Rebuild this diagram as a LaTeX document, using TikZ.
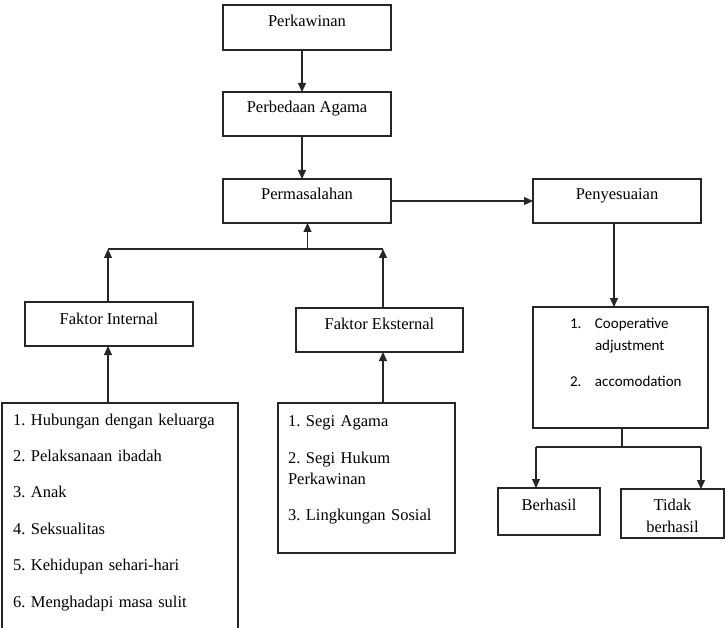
\documentclass[tikz,border=0pt]{standalone}
\usepackage{fontspec}
\setmainfont{Liberation Serif}
\newfontfamily\calib{Carlito}
\usetikzlibrary{arrows.meta}
\frenchspacing
\begin{document}
\begin{tikzpicture}[x=1pt,y=-1pt,
  box/.style={draw=black!85, line width=1.1pt, rectangle, inner sep=0pt, outer sep=0pt, font=\fontsize{16.5}{19}\selectfont},
  topbox/.style={box, minimum width=168pt, text height=21pt, text depth=23pt},
  arr/.style={draw=black!85, line width=1.1pt, -{Triangle[length=9pt,width=8pt]}},
  ln/.style={draw=black!85, line width=1.1pt}]
\useasboundingbox (0,0) rectangle (725,628);
% top column
\node[topbox, anchor=north west, text height=22pt, text depth=23pt] (perk) at (223,5) {Perkawinan};
\node[topbox, anchor=north west] (perb) at (223,92) {Perbedaan Agama};
\node[topbox, anchor=north west] (perm) at (223,179) {Permasalahan};
\node[topbox, anchor=north west] (peny) at (533,179) {Penyesuaian};
% factors
\node[topbox, anchor=north west, text height=22pt, text depth=22pt] (fi) at (25,302) {Faktor Internal};
\node[topbox, anchor=north west, minimum width=167pt, text height=21pt, text depth=23pt] (fe) at (296,308) {Faktor Eksternal};
% lists
\node[box, anchor=north west, align=left, text width=214pt, inner xsep=11pt, inner ysep=0pt,
      font=\fontsize{16.5}{36.4}\selectfont] (il) at (2,403)
  {\rule{0pt}{22pt}1. Hubungan dengan keluarga\\
   2. Pelaksanaan ibadah\\
   3. Anak\\
   4. Seksualitas\\
   5. Kehidupan sehari-hari\\
   6. Menghadapi masa sulit\rule[-33pt]{0pt}{33pt}};
\node[box, anchor=north west, align=left, text width=157pt, inner xsep=10pt, inner ysep=0pt,
      font=\fontsize{16.5}{21}\selectfont] (el) at (278,403)
  {\rule{0pt}{23pt}1. Segi Agama\\[16pt]
   2. Segi Hukum\\
   Perkawinan\\[15pt]
   3. Lingkungan Sosial\rule[-33pt]{0pt}{33pt}};
\node[box, anchor=north west, align=left, text width=101pt, inner xsep=37pt, inner ysep=0pt,
      font=\calib\fontsize{15}{22}\selectfont] (coop) at (533,307)
  {\rule{0pt}{21pt}\makebox[25pt][l]{1.}Cooperative\\
   \hspace*{25pt}adjustment\\[14pt]
   \makebox[25pt][l]{2.}accomodation\rule[-42pt]{0pt}{42pt}};
% outcomes
\node[box, anchor=north west, minimum width=102pt, text height=22pt, text depth=25pt] (ber) at (498,488) {Berhasil};
\node[box, anchor=north west, minimum width=103pt, align=center, font=\fontsize{16.5}{22}\selectfont] (tid) at (621,489)
  {\rule{0pt}{21pt}Tidak\\berhasil\rule[-6pt]{0pt}{6pt}};
% connectors
\draw[arr] ([xshift=-5pt]perk.south) -- ([xshift=-5pt]perb.north);
\draw[arr] ([xshift=-5pt]perb.south) -- ([xshift=-5pt]perm.north);
\draw[arr] (perm.east) -- (peny.west);
\coordinate (J) at (307.5,249);
\coordinate (JL) at (108,249);
\coordinate (JR) at (383,249);
\draw[ln] (JL) -- (JR);
\draw[arr] (J) -- (J |- perm.south);
\draw[arr] (fi.north -| JL) -- (JL);
\draw[arr] (fe.north -| JR) -- (JR);
\draw[arr] (il.north -| JL) -- (fi.south -| JL);
\draw[arr] (el.north -| JR) -- (fe.south -| JR);
\coordinate (P) at (614,0);
\draw[arr] (peny.south -| P) -- (coop.north -| P);
\coordinate (K) at (622,447);
\coordinate (KL) at (536,447);
\coordinate (KR) at (701,447);
\draw[ln] (coop.south -| K) -- (K);
\draw[ln] (KL) -- (KR);
\draw[arr] (KL) -- (ber.north -| KL);
\draw[arr] (KR) -- (tid.north -| KR);
\end{tikzpicture}
\end{document}
